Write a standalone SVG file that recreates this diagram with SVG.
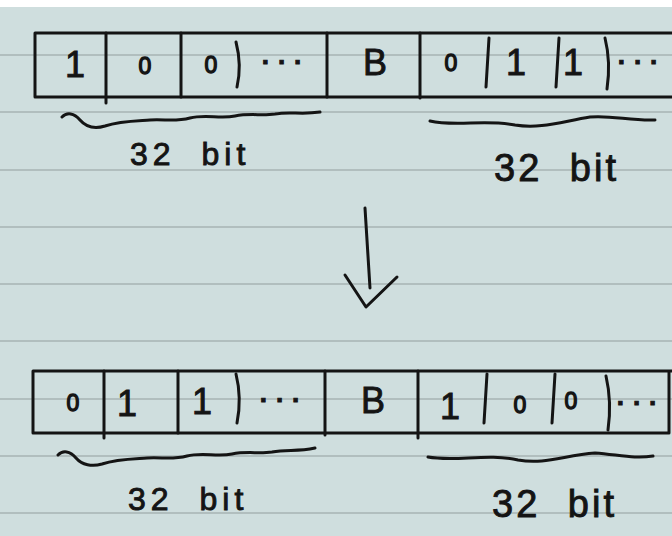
<svg xmlns="http://www.w3.org/2000/svg" width="672" height="536" viewBox="0 0 672 536">
  <style>
    .ink { fill: none; stroke: #141414; stroke-width: 3; stroke-linecap: round; stroke-linejoin: round; }
    .rule { stroke: #a7b3b3; stroke-width: 1.5; }
    text { font-family: "Liberation Sans", "DejaVu Sans", sans-serif; fill: #141414; stroke: #141414; stroke-width: 0.9; text-anchor: middle; }
    .big { font-size: 36px; }
    .small { font-size: 23px; stroke-width: 1.3; }
    .dots { font-size: 26px; font-weight: bold; letter-spacing: 9px; }
    .label { font-size: 32px; text-anchor: start; letter-spacing: 5px; word-spacing: 12px; }
    .label-lg { font-size: 38px; text-anchor: start; letter-spacing: 3px; word-spacing: 14px; }
  </style>

  <!-- paper -->
  <rect width="672" height="536" fill="#cfdede"/>
  <rect width="672" height="7" fill="#ffffff"/>
  <g id="ruling">
    <line class="rule" x1="0" y1="55" x2="672" y2="55"/>
    <line class="rule" x1="0" y1="112" x2="672" y2="112"/>
    <line class="rule" x1="0" y1="170" x2="672" y2="170"/>
    <line class="rule" x1="0" y1="227" x2="672" y2="227"/>
    <line class="rule" x1="0" y1="284" x2="672" y2="284"/>
    <line class="rule" x1="0" y1="341" x2="672" y2="341"/>
    <line class="rule" x1="0" y1="399" x2="672" y2="399"/>
    <line class="rule" x1="0" y1="456" x2="672" y2="456"/>
    <line class="rule" x1="0" y1="513" x2="672" y2="513"/>
  </g>

  <!-- register before the swap -->
  <g id="row-before">
    <path class="ink" d="M676 33 L35 33 L35 97 L676 97"/>
    <path class="ink" d="M106 33 L106 103"/>
    <path class="ink" d="M181 33 L181 97"/>
    <path class="ink" d="M236 42 Q242 65 237 87"/>
    <path class="ink" d="M327 33 L327 97"/>
    <path class="ink" d="M420 33 L420 98"/>
    <path class="ink" d="M489 38 L486 87"/>
    <path class="ink" d="M559 38 L556 87"/>
    <path class="ink" d="M605 38 Q611 62 607 89"/>
    <text class="big" x="75" y="77">1</text>
    <text class="small" x="145" y="74">0</text>
    <text class="small" x="211" y="73">0</text>
    <text class="dots" x="286" y="64">...</text>
    <text class="big" x="375" y="75">B</text>
    <text class="small" x="451" y="71">0</text>
    <text class="big" x="516" y="75">1</text>
    <text class="big" x="573" y="75">1</text>
    <text class="dots" x="642" y="64">...</text>
  </g>
  <g id="span-before-high">
    <path class="ink" d="M62 117 C67 112 74 113 80 120 C86 127 95 129 105 126 C120 121 135 121 150 120 C165 119 175 122 190 118 C205 114 220 119 235 116 C250 113 262 116 275 114 C290 111 300 115 320 112"/>
    <text class="label" x="130" y="165">32 bit</text>
  </g>
  <g id="span-before-low">
    <path class="ink" d="M430 121 C455 127 485 119 515 125 C540 129 560 122 590 117 C612 115 630 121 655 120"/>
    <text class="label-lg" x="494" y="181">32 bit</text>
  </g>

  <!-- swap arrow -->
  <g id="connectors">
    <path class="ink" d="M365 208 L370 288"/>
    <path class="ink" d="M345 275 L366 307 L397 277"/>
  </g>

  <!-- register after the swap -->
  <g id="row-after">
    <path class="ink" d="M676 371 L33 371 L33 433 L669 433 L669 371"/>
    <path class="ink" d="M104 371 L104 438"/>
    <path class="ink" d="M178 371 L178 433"/>
    <path class="ink" d="M236 374 Q242 398 237 423"/>
    <path class="ink" d="M325 371 L325 435"/>
    <path class="ink" d="M418 371 L418 438"/>
    <path class="ink" d="M487 374 L484 423"/>
    <path class="ink" d="M555 374 L552 423"/>
    <path class="ink" d="M606 376 Q612 402 608 430"/>
    <text class="small" x="73" y="411">0</text>
    <text class="big" x="127" y="416">1</text>
    <text class="big" x="202" y="414">1</text>
    <text class="dots" x="284" y="402">...</text>
    <text class="big" x="373" y="413">B</text>
    <text class="big" x="450" y="419">1</text>
    <text class="small" x="520" y="413">0</text>
    <text class="small" x="571" y="409">0</text>
    <text class="dots" x="641" y="405">...</text>
  </g>
  <g id="span-after-high">
    <path class="ink" d="M58 455 C63 450 70 451 76 458 C82 465 92 467 102 464 C117 459 132 459 147 458 C162 457 172 460 187 456 C202 452 217 457 232 454 C247 451 259 454 272 452 C287 449 297 452 315 448"/>
    <text class="label" x="128" y="510">32 bit</text>
  </g>
  <g id="span-after-low">
    <path class="ink" d="M428 457 C455 462 488 453 518 460 C545 465 565 455 595 453 C620 455 635 459 653 456"/>
    <text class="label-lg" x="492" y="517">32 bit</text>
  </g>
</svg>
